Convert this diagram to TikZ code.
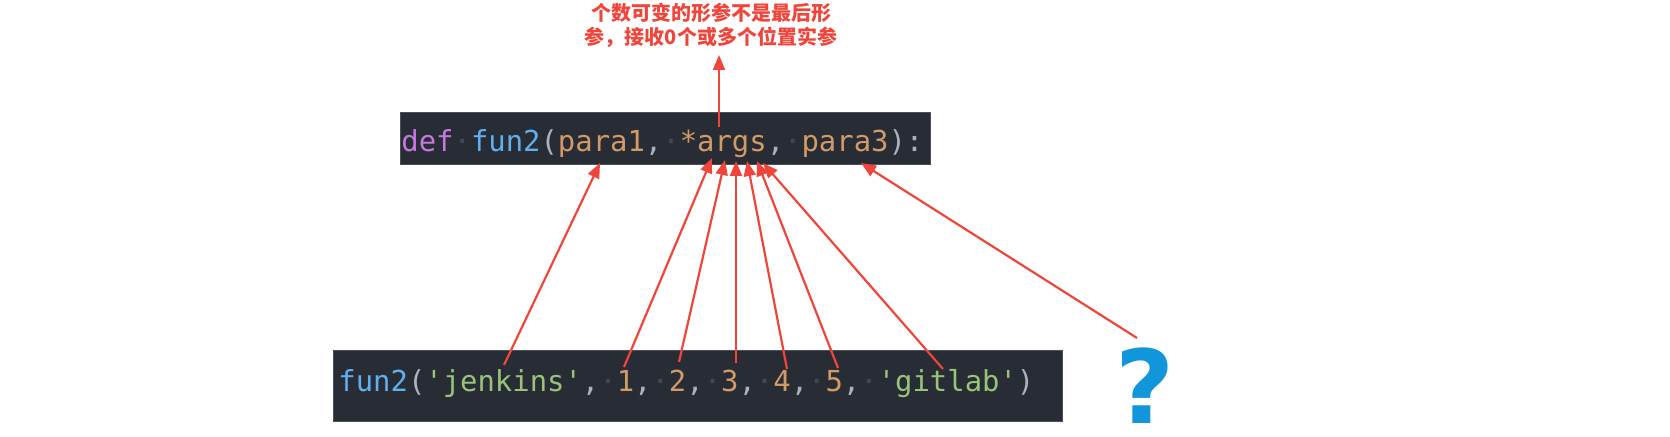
\documentclass[tikz,border=0pt]{standalone}
\usepackage{fontspec}
\usetikzlibrary{arrows.meta}
\newfontfamily\codefont{DejaVu Sans Mono}
\newfontfamily\cjkfont{Noto Sans CJK SC}
\newfontfamily\qfont{DejaVu Sans}
\definecolor{codebg}{HTML}{282C34}
\definecolor{codeedge}{HTML}{4A4F59}
\definecolor{kw}{HTML}{C678DD}
\definecolor{fn}{HTML}{61AFEF}
\definecolor{pu}{HTML}{ABB2BF}
\definecolor{par}{HTML}{D19A66}
\definecolor{str}{HTML}{98C379}
\definecolor{wscol}{HTML}{424854}
\definecolor{redline}{HTML}{F0453A}
\definecolor{qblue}{HTML}{1296DB}
\newcommand\ws{\textcolor{wscol}{·}}
\tikzset{
  codebox/.style={fill=codebg, draw=codeedge, line width=0.4pt, inner sep=0pt, anchor=north west},
  codetext/.style={inner sep=0pt, anchor=base west, font=\codefont\fontsize{14.45pt}{14.45pt}\selectfont},
  titletext/.style={inner sep=0pt, anchor=base, text=redline, font=\cjkfont\bfseries\fontsize{10pt}{11pt}\selectfont},
  redarrow/.style={draw=redline, line width=1.1pt, -{Triangle[length=7.5pt,width=6pt]}},
}
\begin{document}
\begin{tikzpicture}[x=0.5pt,y=-0.5pt]
\useasboundingbox (0,0) rectangle (1670,437);
% code boxes
\node[codebox, minimum width=265pt, minimum height=26pt] (defbox) at (400,112) {};
\node[codebox, minimum width=364.5pt, minimum height=35.5pt] (callbox) at (333,350) {};
% code text
\node[codetext] (defline) at (401,152) {\textcolor{kw}{def}\ws\textcolor{fn}{fun2}\textcolor{pu}{(}\textcolor{par}{para1}\textcolor{pu}{,}\ws\textcolor{par}{*args}\textcolor{pu}{,}\ws\textcolor{par}{para3}\textcolor{pu}{):}};
\node[codetext] (callline) at (338,392) {\textcolor{fn}{fun2}\textcolor{pu}{(}\textcolor{str}{'jenkins'}\textcolor{pu}{,}\ws\textcolor{par}{1}\textcolor{pu}{,}\ws\textcolor{par}{2}\textcolor{pu}{,}\ws\textcolor{par}{3}\textcolor{pu}{,}\ws\textcolor{par}{4}\textcolor{pu}{,}\ws\textcolor{par}{5}\textcolor{pu}{,}\ws\textcolor{str}{'gitlab'}\textcolor{pu}{)}};
% title
\node[titletext] (title1) at (711,21) {个数可变的形参不是最后形};
\node[titletext] (title2) at (711,45) {参，接收0个或多个位置实参};
% question mark
\node[inner sep=0pt, anchor=base, text=qblue, font=\qfont\bfseries\fontsize{51pt}{51pt}\selectfont] (qmark) at (1145,424) {?};
% endpoints
\coordinate (upstart) at (719,127);
\coordinate (uptip) at (719,55);
\coordinate (s1) at (504,365); \coordinate (t1) at (600,163);
\coordinate (s2) at (624,367); \coordinate (t2) at (712,158);
\coordinate (s3) at (679,362); \coordinate (t3) at (725,160);
\coordinate (s4) at (736,363); \coordinate (t4) at (736,161);
\coordinate (s5) at (787,369); \coordinate (t5) at (747,161);
\coordinate (s6) at (838,368); \coordinate (t6) at (757,161);
\coordinate (s7) at (943,369); \coordinate (t7) at (763,163);
\coordinate (s8) at (1137,338); \coordinate (t8) at (861,163);
% arrows
\draw[redarrow] (upstart) -- (uptip);
\foreach \i in {1,...,8} { \draw[redarrow] (s\i) -- (t\i); }
\end{tikzpicture}
\end{document}
